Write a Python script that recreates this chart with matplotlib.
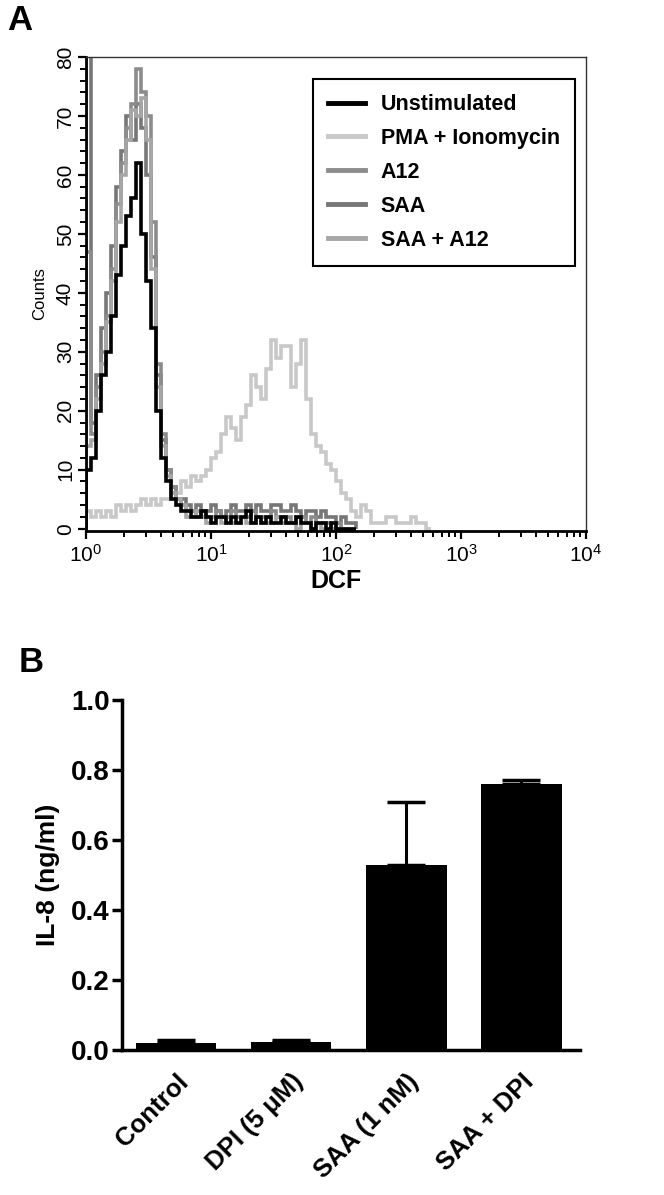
import numpy as np
import matplotlib.pyplot as plt
from matplotlib.lines import Line2D
from matplotlib.ticker import MultipleLocator, LogLocator

plt.rcParams['font.family'] = ['Liberation Sans', 'DejaVu Sans']
plt.rcParams['mathtext.fontset'] = 'custom'
plt.rcParams['mathtext.rm'] = 'Liberation Sans'

# ---- Panel A: DCF flow histograms (counts per channel, 0.04-decade channels from 10^0) ----
bin_step = 0.04
unstim = [10, 12, 20, 26, 30, 36, 43, 48, 53, 56, 62, 50, 42, 34, 20, 12, 8, 5, 4, 3,
          3, 2, 2, 3, 2, 1, 2, 2, 1, 2, 1, 2, 3, 1, 2, 1, 2, 1, 1, 2, 1, 1, 2, 1, 1, 0,
          1, 1, 0, 1, 0, 0, 0, 0]
pma = [3, 2, 3, 2, 3, 2, 4, 3, 4, 3, 4, 5, 4, 5, 4, 5, 5, 6, 6, 8,
       7, 9, 8, 9, 10, 12, 13, 16, 19, 17, 15, 19, 21, 26, 24, 22, 27, 32, 29, 31,
       31, 24, 28, 32, 22, 16, 14, 13, 11, 10, 8, 6, 5, 3, 2, 4, 3, 1, 1, 1,
       2, 2, 1, 1, 1, 2, 1, 1, 0]
a12 = [47, 16, 24, 30, 36, 44, 55, 62, 68, 72, 78, 74, 70, 52, 28, 16, 10, 7, 5, 4,
       3, 3, 2, 3, 2, 2, 3, 2, 2, 3, 2, 2, 2, 3, 2, 2, 2, 3, 2, 2, 2, 1, 2, 2, 1, 2,
       1, 1, 1, 0, 1, 0, 0, 0]
saa = [95, 18, 26, 34, 40, 48, 58, 64, 70, 66, 72, 68, 60, 46, 26, 15, 10, 7, 5, 5,
       4, 3, 4, 3, 3, 4, 3, 2, 3, 4, 3, 3, 4, 3, 4, 3, 3, 4, 4, 3, 3, 4, 3, 2, 3, 3,
       2, 3, 2, 2, 1, 2, 1, 1]
saa_a12 = [14, 15, 22, 28, 35, 42, 52, 60, 66, 71, 70, 73, 66, 44, 24, 14, 9, 6, 5, 4,
           2, 2, 3, 2, 1, 2, 2, 1, 2, 1, 1, 2, 1, 1, 2, 1, 1, 1, 2, 1, 1, 1, 0, 1, 1, 0,
           1, 0, 0, 0, 0, 0, 0, 0]
hist_labels = ['Unstimulated', 'PMA + Ionomycin', 'A12', 'SAA', 'SAA + A12']
hist_colors = ['#000000', '#c8c8c8', '#8c8c8c', '#777777', '#a6a6a6']

# ---- Panel B: IL-8 secretion ----
groups = ['Control', 'DPI (5 \u03bcM)', 'SAA (1 nM)', 'SAA + DPI']
il8 = [0.02, 0.022, 0.53, 0.76]
il8_err = [0.008, 0.007, 0.18, 0.012]

W, H = 664, 1195
fig = plt.figure(figsize=(W / 100, H / 100), dpi=100)

axA = fig.add_axes([86 / W, 1 - 531 / H, 500 / W, 474 / H])
edges_all = 10 ** (np.arange(0, 101) * bin_step)
series = [pma, saa, a12, saa_a12, unstim]
order = [1, 3, 2, 4, 0]
for vals, idx in zip(series, order):
    e = edges_all[:len(vals) + 1]
    axA.stairs(vals, e, baseline=0, color=hist_colors[idx], lw=2.6, zorder=2 + (idx == 0))

axA.set_xscale('log')
axA.set_xlim(1, 1e4)
axA.set_ylim(-0.4, 80)
axA.yaxis.set_major_locator(MultipleLocator(10))
axA.yaxis.set_minor_locator(MultipleLocator(2))
axA.xaxis.set_major_locator(LogLocator(base=10, numticks=10))
axA.xaxis.set_minor_locator(LogLocator(base=10, subs=np.arange(2, 10), numticks=20))
axA.tick_params(axis='both', which='major', direction='out', length=6, width=1.6,
                labelsize=15, colors='black')
axA.tick_params(axis='both', which='minor', direction='out', length=4, width=1.4)
axA.tick_params(axis='y', pad=2)
for lab in axA.get_yticklabels():
    lab.set_rotation(90)
    lab.set_va('center')
for s in ['left', 'bottom']:
    axA.spines[s].set_linewidth(2)
for s in ['top', 'right']:
    axA.spines[s].set_linewidth(1)
    axA.spines[s].set_color('#333333')
axA.set_xlabel('DCF', fontsize=18, fontweight='bold', labelpad=2)
axA.set_ylabel('Counts', fontsize=12, labelpad=6)

handles = [Line2D([], [], color=c, lw=3.5) for c in hist_colors]
leg = axA.legend(handles, hist_labels, loc='upper left',
                 bbox_to_anchor=(313 / W, 1 - 79 / H), bbox_transform=fig.transFigure,
                 borderaxespad=0, frameon=True, fancybox=False, framealpha=1,
                 edgecolor='black', handlelength=1.7, handletextpad=0.75,
                 labelspacing=0.6, borderpad=0.7,
                 prop={'size': 15.5, 'weight': 'bold'})
leg.get_frame().set_linewidth(1.5)

fig.text(20 / W, 1 - 20 / H, 'A', fontsize=25, fontweight='bold', ha='center', va='center')

# ---- Panel B ----
axB = fig.add_axes([122 / W, 1 - 1050 / H, 458 / W, 350 / H])
x = np.arange(len(groups))
axB.bar(x, il8, width=0.7, color='black', zorder=2)
axB.errorbar(x, il8, yerr=[np.zeros(len(il8)), il8_err], fmt='none', ecolor='black',
             elinewidth=2.2, capsize=14, capthick=2.5, zorder=3)
axB.set_xlim(-0.47, 3.51)
axB.set_ylim(0, 1.0)
axB.yaxis.set_major_locator(MultipleLocator(0.2))
axB.yaxis.set_major_formatter(plt.FormatStrFormatter('%.1f'))
axB.spines['top'].set_visible(False)
axB.spines['right'].set_visible(False)
axB.spines['left'].set_linewidth(2.5)
axB.spines['bottom'].set_linewidth(2.5)
axB.tick_params(axis='y', direction='out', length=7, width=2.5, labelsize=20, pad=2)
axB.tick_params(axis='x', length=0, labelsize=18.5, pad=14)
axB.set_xticks(x)
axB.set_xticklabels(groups, rotation=45, ha='right', rotation_mode='anchor',
                    fontweight='bold')
for lab in axB.get_yticklabels():
    lab.set_fontweight('bold')
axB.set_ylabel('IL-8 (ng/ml)', fontsize=19, fontweight='bold', labelpad=8)

fig.text(31 / W, 1 - 663 / H, 'B', fontsize=25, fontweight='bold', ha='center', va='center')

fig.savefig('out.png', dpi=100)
